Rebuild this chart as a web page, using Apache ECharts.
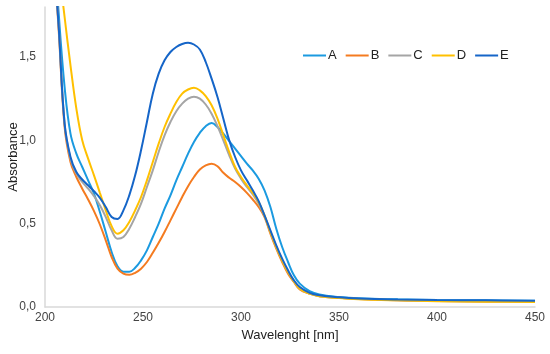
<!DOCTYPE html>
<html>
<head>
<meta charset="utf-8">
<script src="https://cdn.jsdelivr.net/npm/echarts@6/dist/echarts.min.js"></script>
<style>html,body{margin:0;padding:0;background:#fff;}#c{width:550px;height:354px;}</style>
</head>
<body>
<div id="c"></div>
<script>
var wavelengths = [200, 204, 207, 210, 213, 216, 219, 222, 225, 228, 231, 234, 237, 240, 243, 246, 249, 252, 255, 258, 261, 264, 267, 270, 273, 276, 279, 282, 285, 288, 291, 294, 297, 300, 303, 306, 309, 312, 315, 318, 321, 324, 327, 330, 335, 340, 350, 360, 380, 400, 425, 450];
var seriesNames = ['A', 'B', 'C', 'D', 'E'];
var valuesA = [3.3, 2.3, 1.76, 1.32, 1.04, 0.92, 0.84, 0.76, 0.68, 0.57, 0.45, 0.33, 0.245, 0.212, 0.212, 0.235, 0.28, 0.34, 0.42, 0.50, 0.59, 0.67, 0.76, 0.84, 0.92, 0.99, 1.045, 1.085, 1.104, 1.08, 1.04, 0.995, 0.95, 0.905, 0.86, 0.82, 0.77, 0.70, 0.60, 0.47, 0.36, 0.27, 0.19, 0.14, 0.095, 0.075, 0.06, 0.052, 0.046, 0.042, 0.040, 0.038];
var valuesB = [3.2, 2.2, 1.66, 1.08, 0.87, 0.78, 0.71, 0.645, 0.575, 0.495, 0.40, 0.30, 0.23, 0.20, 0.193, 0.205, 0.23, 0.27, 0.325, 0.385, 0.45, 0.52, 0.59, 0.66, 0.725, 0.78, 0.825, 0.85, 0.86, 0.845, 0.805, 0.775, 0.75, 0.72, 0.685, 0.645, 0.60, 0.54, 0.44, 0.35, 0.27, 0.20, 0.15, 0.105, 0.08, 0.065, 0.055, 0.048, 0.040, 0.036, 0.033, 0.031];
var valuesC = [3.2, 2.2, 1.68, 1.10, 0.89, 0.80, 0.75, 0.71, 0.665, 0.61, 0.54, 0.46, 0.41, 0.42, 0.47, 0.54, 0.62, 0.72, 0.82, 0.93, 1.03, 1.11, 1.175, 1.22, 1.25, 1.262, 1.25, 1.215, 1.16, 1.085, 1.00, 0.91, 0.83, 0.77, 0.72, 0.675, 0.62, 0.545, 0.45, 0.36, 0.28, 0.21, 0.155, 0.11, 0.08, 0.065, 0.055, 0.048, 0.041, 0.036, 0.033, 0.031];
var valuesD = [3.4, 2.5, 2.05, 1.74, 1.45, 1.19, 1.00, 0.89, 0.79, 0.685, 0.58, 0.485, 0.44, 0.46, 0.51, 0.58, 0.66, 0.76, 0.87, 0.98, 1.08, 1.16, 1.23, 1.28, 1.305, 1.315, 1.30, 1.265, 1.21, 1.13, 1.03, 0.93, 0.84, 0.78, 0.73, 0.685, 0.63, 0.55, 0.45, 0.36, 0.28, 0.21, 0.155, 0.11, 0.08, 0.065, 0.054, 0.047, 0.040, 0.035, 0.032, 0.030];
var valuesE = [3.2, 2.2, 1.68, 1.10, 0.90, 0.81, 0.765, 0.73, 0.695, 0.655, 0.60, 0.54, 0.528, 0.58, 0.67, 0.79, 0.94, 1.11, 1.28, 1.40, 1.48, 1.53, 1.56, 1.578, 1.585, 1.575, 1.545, 1.47, 1.37, 1.26, 1.13, 1.00, 0.90, 0.82, 0.76, 0.70, 0.635, 0.55, 0.46, 0.37, 0.29, 0.22, 0.16, 0.12, 0.085, 0.07, 0.058, 0.051, 0.045, 0.042, 0.040, 0.038];
var xTicks = [200, 250, 300, 350, 400, 450];
var yTicks = [0, 0.5, 1.0, 1.5];
var colors = ['#1b9ae0', '#f47b20', '#a5a5a5', '#ffc000', '#1565c8'];

function pairs(vals) { return wavelengths.map(function (w, i) { return [w, vals[i]]; }); }
var allValues = [valuesA, valuesB, valuesC, valuesD, valuesE];

var chart = echarts.init(document.getElementById('c'), null, {renderer: 'canvas'});
var font = '"Liberation Sans", Arial, sans-serif';
chart.setOption({
  animation: false,
  color: colors,
  textStyle: {fontFamily: font},
  grid: {left: 45, right: 15, top: 7, bottom: 47, containLabel: false, outerBoundsMode: 'none'},
  legend: {
    data: seriesNames.map(function (n) { return {name: n, icon: 'rect'}; }),
    left: 298, top: 44,
    itemWidth: 23, itemHeight: 2, itemGap: 9,
    textStyle: {fontFamily: font, fontSize: 13, color: '#222', padding: [0, 0, 0, -3]}
  },
  xAxis: {
    type: 'value', min: xTicks[0], max: xTicks[xTicks.length - 1], interval: 50,
    name: 'Wavelenght [nm]', nameLocation: 'middle', nameGap: 22, nameMoveOverlap: false,
    nameTextStyle: {fontFamily: font, fontSize: 13, color: '#222'},
    axisLine: {show: true, lineStyle: {color: '#d9d9d9', width: 1.5}},
    axisTick: {show: false},
    splitLine: {show: false},
    axisLabel: {fontFamily: font, fontSize: 12, color: '#444', margin: 5}
  },
  yAxis: {
    type: 'value', min: 0, max: 1.8, interval: 0.5,
    name: 'Absorbance', nameLocation: 'middle', nameGap: 25, nameMoveOverlap: false,
    nameTextStyle: {fontFamily: font, fontSize: 13, color: '#222'},
    axisLine: {show: true, lineStyle: {color: '#d9d9d9', width: 1.5}},
    axisTick: {show: false},
    splitLine: {show: false},
    axisLabel: {
      fontFamily: font, fontSize: 12, color: '#444', margin: 9, showMaxLabel: false,
      formatter: function (v) { return yTicks.indexOf(Math.round(v * 10) / 10) >= 0 ? v.toFixed(1).replace('.', ',') : ''; }
    }
  },
  series: seriesNames.map(function (n, i) {
    return {
      name: n, type: 'line', data: pairs(allValues[i]),
      smooth: 0.4, symbol: 'none', clip: true,
      lineStyle: {width: 2, color: colors[i]}
    };
  })
});
</script>
</body>
</html>
